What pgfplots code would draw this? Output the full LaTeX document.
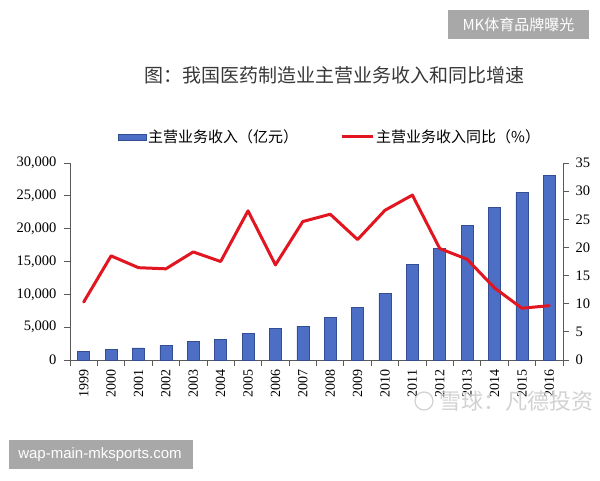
\documentclass[border=0pt]{standalone}
\usepackage{fontspec}
\usepackage{pgfplots}
\pgfplotsset{compat=1.18}
\setmainfont{Liberation Serif}
\newfontfamily\cjk{Noto Sans CJK SC}
\newfontfamily\latinsans{Liberation Sans}
\definecolor{barblue}{RGB}{76,110,196}
\definecolor{baredge}{RGB}{52,78,150}
\definecolor{linered}{RGB}{226,22,32}
\definecolor{axisgray}{RGB}{90,90,90}
\definecolor{boxgray}{RGB}{168,168,168}
\definecolor{markgray}{RGB}{210,210,210}

% revenue (100 million yuan) and year-on-year growth (%)
\pgfplotstableread{
idx year revenue growth
0  1999 1260  10.3
1  2000 1630  18.5
2  2001 1830  16.4
3  2002 2180  16.2
4  2003 2790  19.2
5  2004 3150  17.5
6  2005 4060  26.5
7  2006 4770  16.9
8  2007 5170  24.6
9  2008 6440  25.9
10 2009 7960  21.4
11 2010 10150 26.6
12 2011 14570 29.3
13 2012 17000 19.8
14 2013 20500 17.9
15 2014 23290 12.8
16 2015 25520 9.2
17 2016 28110 9.65
}\datatable

\pgfplotsset{
  barlegend/.style={legend image code/.code={\draw[fill=barblue, draw=baredge] (0pt,-3pt) rectangle (28pt,3pt);}},
  linelegend/.style={legend image code/.code={\draw[linered, line width=3pt] (0pt,0pt) -- (31pt,0pt);}},
  common/.style={
    at={(70pt,120pt)}, anchor=south west,
    scale only axis, width=493pt, height=197pt,
    xmin=-0.5, xmax=17.5,
    axis line style={axisgray, line width=0.8pt},
    tick style={axisgray, line width=0.8pt},
    tick align=outside,
    major tick length=6pt, minor tick length=6pt,
    scaled y ticks=false,
    /pgf/number format/fixed,
    /pgf/number format/1000 sep={,},
    /pgf/number format/assume math mode=true,
  },
}

\begin{document}
\begin{tikzpicture}[x=1pt,y=1pt]
\path[use as bounding box, fill=white] (0,0) rectangle (600,480);

\node[font=\cjk\fontsize{19}{21}\selectfont, text=black!78] at (334,405) {图：我国医药制造业主营业务收入和同比增速};

\begin{axis}[
  common,
  ymin=0, ymax=30000,
  axis x line*=bottom, axis y line*=left,
  xtick={0,...,17}, major x tick style={draw=none},
  xticklabels={1999,2000,2001,2002,2003,2004,2005,2006,2007,2008,2009,2010,2011,2012,2013,2014,2015,2016},
  minor xtick={-0.5,0.5,...,17.5},
  x tick label style={rotate=90, anchor=east, font=\fontsize{14}{16}\selectfont},
  ytick={0,5000,...,30000},
  y tick label style={font=\fontsize{14.5}{16}\selectfont, xshift=-4pt},
  legend columns=2,
  legend style={at={(0.527,1.132)}, anchor=center, draw=none, fill=none,
    font=\cjk\fontsize{15}{17}\selectfont,
    /tikz/every even column/.append style={column sep=40pt}},
]
\addplot[ybar, bar width=12pt, fill=barblue, draw=baredge, line width=0.6pt, barlegend]
  table[x=idx, y=revenue] {\datatable};
\addlegendentry{主营业务收入（亿元）}
\addlegendimage{linelegend}
\addlegendentry{主营业务收入同比（\%）}
\end{axis}

\begin{axis}[
  common,
  ymin=0, ymax=35,
  axis y line*=right, axis x line=none,
  ytick={0,5,...,35},
  y tick label style={font=\fontsize{14.5}{16}\selectfont, xshift=3pt},
]
\addplot[linered, line width=3pt, line join=round, line cap=round]
  table[x=idx, y=growth] {\datatable};
\end{axis}

% site badges
\fill[boxgray] (448,441) rectangle (589,470);
\node[text=white, font=\cjk\fontsize{15}{17}\selectfont] at (518.5,455.5) {MK体育品牌曝光};
\fill[boxgray] (9,11) rectangle (193,40);
\node[text=white, font=\latinsans\fontsize{15}{17}\selectfont] at (100,25.5) {wap-main-mksports.com};

% source mark
\draw[markgray, line width=1.2pt] (424,79) circle (9);
\node[text=markgray, font=\cjk\fontsize{22}{24}\selectfont, anchor=west] at (436,79) {雪球：凡德投资};
\end{tikzpicture}
\end{document}
